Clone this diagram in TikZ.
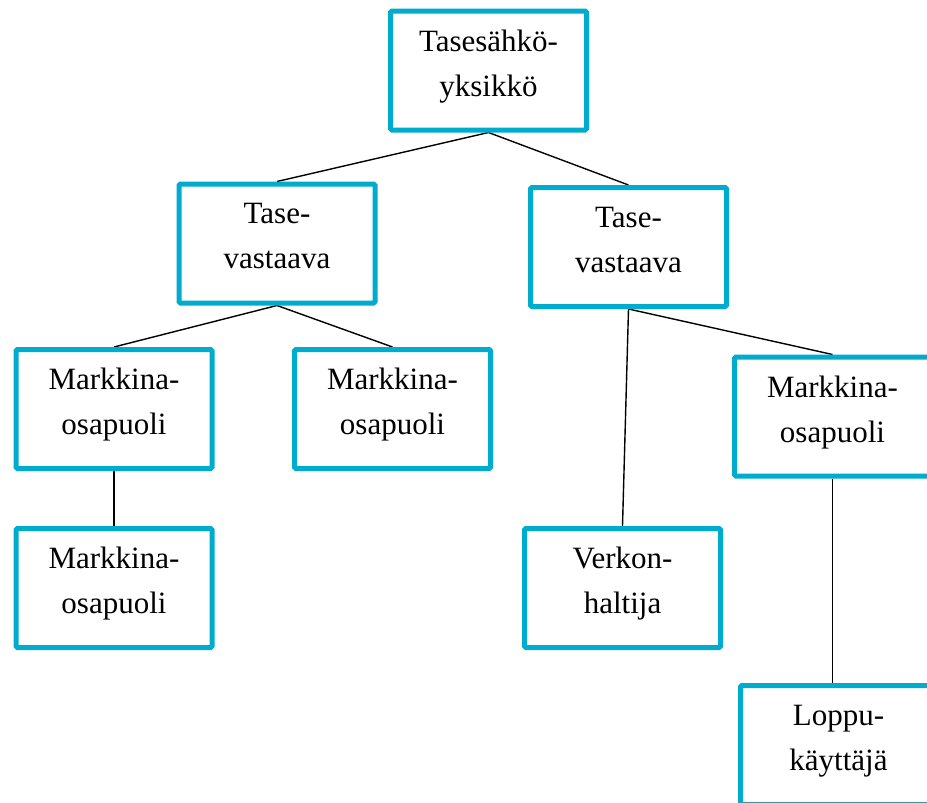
\documentclass[tikz,border=0pt]{standalone}
\usepackage{fontspec}
\setmainfont{Liberation Serif}
\usetikzlibrary{backgrounds}

\definecolor{boxcyan}{RGB}{0,172,205}

\begin{document}
\begin{tikzpicture}[x=1pt,y=-1pt]
    \tikzstyle{rolebox}=[draw=boxcyan,line width=5pt,rounded corners=1.5pt,
                         minimum width=196pt,minimum height=119pt,align=center,
                         font=\fontsize{31pt}{45pt}\selectfont,
                         execute at begin node={\rule{0pt}{21pt}},
                         execute at end node={\rule[-15pt]{0pt}{15pt}}]
    \tikzstyle{link}=[line width=1.4pt,black]

    \useasboundingbox (0,0) rectangle (927,803);
    \clip (0,0) rectangle (927,803);

    % Draw the boxes, level by level
    \node [rolebox] at (488.5,70.5) (tse) {Tasesähkö-\\yksikkö};

    \node [rolebox] at (277,243.5) (taseL) {Tase-\\vastaava};
    \node [rolebox] at (628.5,247) (taseR) {Tase-\\vastaava};

    \node [rolebox] at (114,409) (markL) {Markkina-\\osapuoli};
    \node [rolebox] at (392.5,409) (markM) {Markkina-\\osapuoli};
    \node [rolebox] at (832.5,416.5) (markR) {Markkina-\\osapuoli};

    \node [rolebox] at (114,588) (markLL) {Markkina-\\osapuoli};
    \node [rolebox] at (622.5,588) (verkko) {Verkon-\\haltija};
    \node [rolebox] at (838.5,745) (loppu) {Loppu-\\käyttäjä};

    % Draw the links behind the boxes
    \begin{scope}[on background layer]
        \draw [link] (tse.south) -- (taseL.north);
        \draw [link] (tse.south) -- (taseR.north);
        \draw [link] (taseL.south) -- (markL.north);
        \draw [link] (taseL.south) -- (markM.north);
        \draw [link] (taseR.south) -- (verkko.north);
        \draw [link] (taseR.south) -- (markR.north);
        \draw [link] (markL.south) -- (markLL.north);
        \draw [link] (markR.south) -- (markR.south |- loppu.north);
    \end{scope}
\end{tikzpicture}
\end{document}
